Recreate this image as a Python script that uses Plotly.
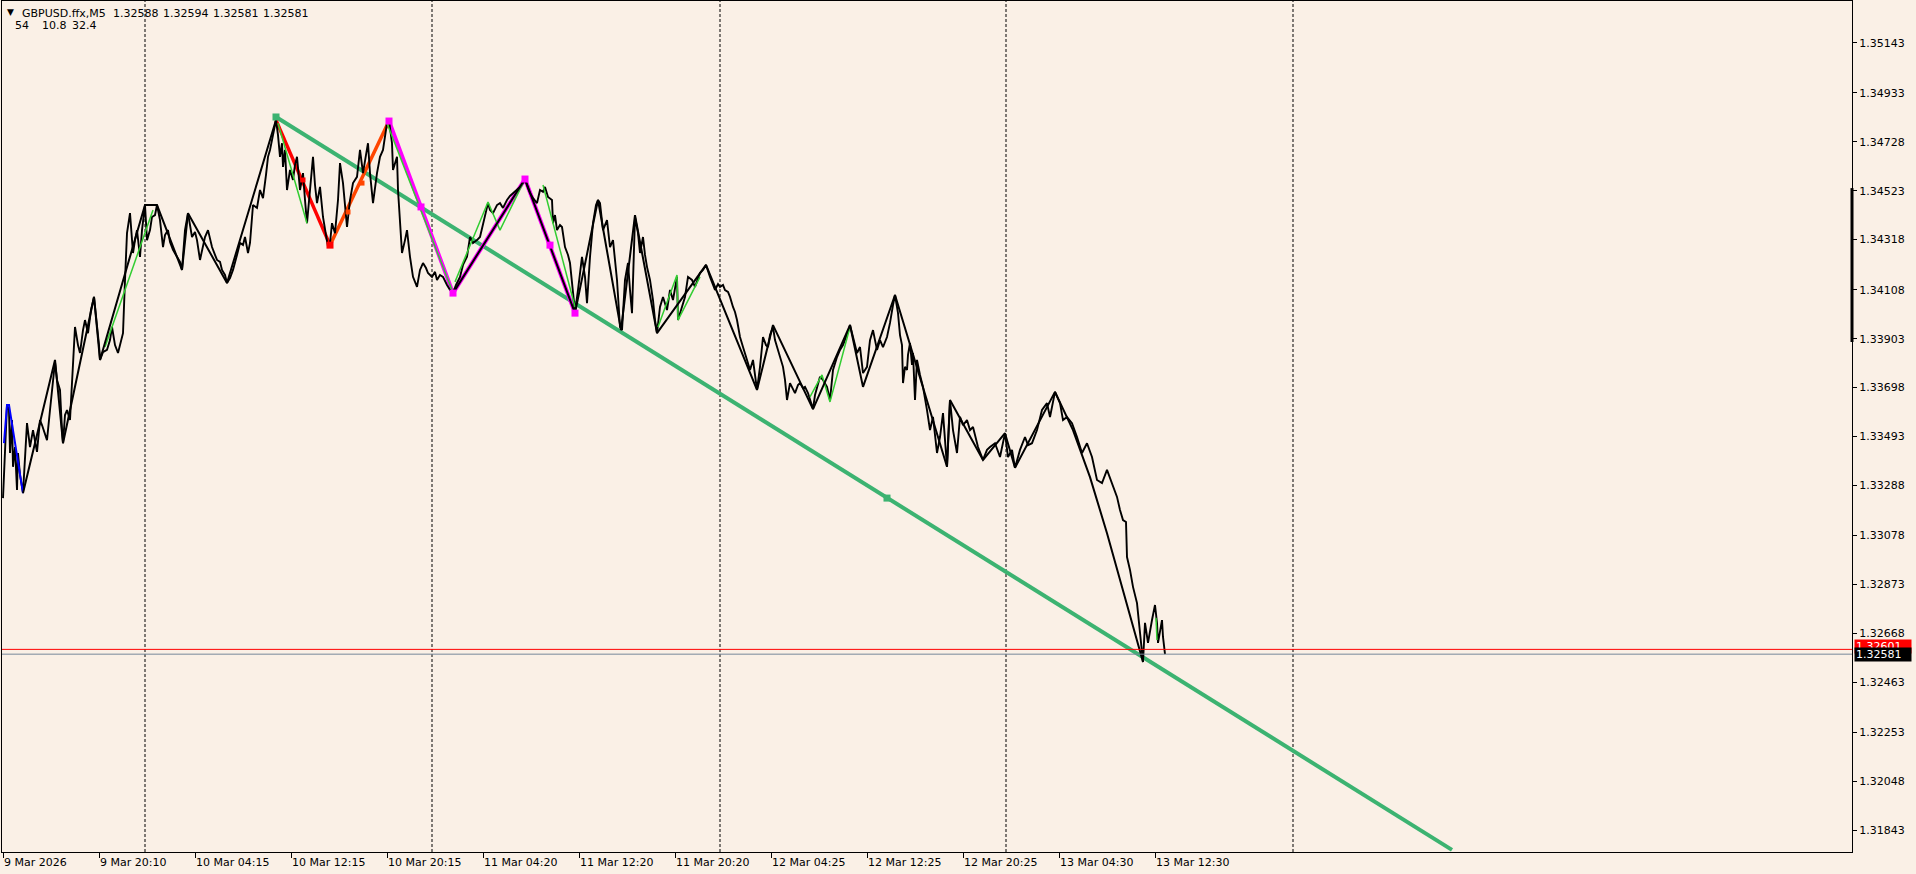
import plotly.graph_objects as go

# ---------------- header texts ----------------
symbol_text = "GBPUSD.ffx,M5"
ohlc_values = ["1.32588", "1.32594", "1.32581", "1.32581"]
indicator_values = ["54", "10.8", "32.4"]

# ---------------- price series (bar index, close) ----------------
bars = [
    0, 2, 4, 6, 7, 9, 10, 12, 14, 15, 17, 20, 24, 27, 30, 34, 37, 39, 42, 44,
    47, 50, 52, 54, 57, 59, 60, 62, 64, 67, 70, 72, 75, 77, 80, 82, 85, 88, 91, 93,
    94, 96, 97, 100, 104, 107, 109, 112, 115, 118, 120, 122, 124, 127, 130, 132, 134, 137, 139, 142,
    144, 147, 149, 152, 154, 157, 160, 162, 165, 167, 170, 174, 177, 179, 182, 185, 187, 189, 192, 194,
    197, 200, 202, 205, 207, 209, 212, 214, 217, 219, 222, 224, 227, 230, 234, 237, 240, 242, 245, 247,
    250, 254, 257, 260, 263, 265, 267, 269, 271, 273,
    275, 277, 279, 280, 282, 284, 287, 290, 292, 294, 297, 300, 302, 304, 307, 310, 312, 314, 317, 320,
    323, 325, 327, 329, 332, 335, 337, 340, 344, 347, 350, 354, 357, 360, 363, 365, 367, 370, 374, 377,
    380, 384, 386, 389, 390, 394, 395, 397, 399, 402, 404, 407, 410, 414, 417, 420, 423, 425, 429, 432,
    434, 437, 440, 444, 447, 450, 453, 457, 460, 464, 467, 470, 474, 477, 480, 483, 485, 487, 490, 494,
    497, 500, 504, 507, 510, 514, 517, 520, 522, 525, 527, 530, 534, 537, 540, 542, 545, 549, 550, 552,
    554, 557, 559, 562, 565, 567, 569, 572, 575, 577, 579, 582, 584, 587, 590, 593, 595,
    597, 600, 604, 607, 610, 612, 614, 617, 619, 622, 625, 627, 629, 632, 635, 637, 640, 642, 644, 647,
    650, 652, 654, 657, 660, 664, 667, 670, 674, 675, 679, 682, 685, 689, 692, 695, 697, 700, 703, 707,
    710, 712, 715, 717, 720, 722, 725, 727, 730, 732, 734, 737, 740, 742, 744, 747, 750, 752, 754, 757,
    760, 763, 765, 767, 770, 772, 774, 777, 780, 782, 784, 787, 790, 792, 795, 797, 800, 802, 805, 807,
    810, 812, 814, 817, 820, 822, 824, 827, 830, 834, 837, 840, 842, 845, 847, 850, 852, 854, 857, 860,
    862, 864, 867, 870, 872, 874, 877, 880, 884, 887, 890, 892, 895, 897, 899, 900, 902, 904, 905, 907,
    909, 910, 912, 914, 917,
    920, 924, 927, 930, 934, 937, 940, 944, 947, 950, 954, 957, 960, 964, 967, 970, 975, 980, 984, 987,
    992, 997, 1002, 1005, 1009, 1012, 1017, 1022, 1025, 1029, 1034, 1039, 1044, 1047, 1052, 1057, 1060, 1064, 1069, 1074,
    1079, 1084, 1089, 1094, 1099, 1104, 1109, 1114, 1117, 1120, 1123, 1124, 1127, 1130, 1134, 1137, 1140, 1142, 1145, 1149,
    1152, 1154, 1155, 1159, 1160, 1162,
]
close = [
    1.33235, 1.33465, 1.33625, 1.33604, 1.33424, 1.33562, 1.33366, 1.33449, 1.33269, 1.33424, 1.33332, 1.33256, 1.33549, 1.33449, 1.33520, 1.33429, 1.33562, 1.33541, 1.33507, 1.33478,
    1.33604, 1.33717, 1.33806, 1.33730, 1.33688, 1.33520, 1.33465, 1.33583, 1.33604, 1.33562, 1.33801, 1.33952, 1.33876, 1.33843, 1.33939, 1.33981, 1.33926, 1.34023, 1.34078, 1.34002,
    1.33952, 1.33876, 1.33814, 1.33847, 1.33856, 1.33897, 1.33952, 1.33876, 1.33843, 1.33897, 1.33926, 1.34149, 1.34345, 1.34429, 1.34262, 1.34316, 1.34358, 1.34246, 1.34358, 1.34463,
    1.34316, 1.34358, 1.34413, 1.34421, 1.34463, 1.34400, 1.34287, 1.34337, 1.34358, 1.34308, 1.34275, 1.34246, 1.34225, 1.34191, 1.34358, 1.34429, 1.34379, 1.34329, 1.34350, 1.34316,
    1.34233, 1.34296, 1.34329, 1.34358, 1.34325, 1.34287, 1.34254, 1.34233, 1.34225, 1.34191, 1.34170, 1.34136, 1.34157, 1.34191, 1.34254, 1.34304, 1.34296, 1.34329, 1.34262, 1.34304,
    1.34463, 1.34451, 1.34526, 1.34492, 1.34589, 1.34665, 1.34694, 1.34735, 1.34785, 1.34819,
    1.34756, 1.34665, 1.34722, 1.34623, 1.34694, 1.34526, 1.34610, 1.34568, 1.34631, 1.34665, 1.34526, 1.34597, 1.34484, 1.34387, 1.34526, 1.34665, 1.34547, 1.34471, 1.34539, 1.34413,
    1.34337, 1.34287, 1.34304, 1.34387, 1.34345, 1.34484, 1.34639, 1.34555, 1.34371, 1.34484, 1.34555, 1.34581, 1.34694, 1.34597, 1.34673, 1.34722, 1.34597, 1.34471, 1.34597, 1.34665,
    1.34694, 1.34806, 1.34819, 1.34722, 1.34610, 1.34665, 1.34526, 1.34400, 1.34262, 1.34316, 1.34358, 1.34246, 1.34162, 1.34120, 1.34191, 1.34220, 1.34199, 1.34178, 1.34162, 1.34183,
    1.34149, 1.34170, 1.34162, 1.34128, 1.34107, 1.34094, 1.34128, 1.34162, 1.34212, 1.34246, 1.34329, 1.34304, 1.34316, 1.34329, 1.34387, 1.34442, 1.34471, 1.34442, 1.34429, 1.34463,
    1.34471, 1.34451, 1.34484, 1.34501, 1.34513, 1.34526, 1.34539, 1.34555, 1.34572, 1.34534, 1.34513, 1.34492, 1.34471, 1.34526, 1.34518, 1.34539, 1.34497, 1.34484, 1.34387, 1.34421,
    1.34358, 1.34379, 1.34371, 1.34287, 1.34254, 1.34220, 1.34128, 1.34015, 1.34107, 1.34191, 1.34246, 1.34162, 1.34052, 1.34246, 1.34387, 1.34463, 1.34484,
    1.34471, 1.34358, 1.34400, 1.34287, 1.34316, 1.34233, 1.34149, 1.33952, 1.33939, 1.34149, 1.34220, 1.34107, 1.34010, 1.34413, 1.34345, 1.34262, 1.34329, 1.34254, 1.34204, 1.34149,
    1.34065, 1.33981, 1.33926, 1.34036, 1.34078, 1.34023, 1.34107, 1.34065, 1.34162, 1.33981, 1.34036, 1.34078, 1.34162, 1.34149, 1.34120, 1.34157, 1.34178, 1.34191, 1.34212, 1.34162,
    1.34128, 1.34107, 1.34132, 1.34120, 1.34128, 1.34107, 1.34099, 1.34078, 1.34036, 1.34015, 1.33981, 1.33910, 1.33868, 1.33835, 1.33814, 1.33772, 1.33814, 1.33751, 1.33688, 1.33785,
    1.33910, 1.33876, 1.33868, 1.33918, 1.33952, 1.33897, 1.33868, 1.33826, 1.33785, 1.33730, 1.33646, 1.33717, 1.33688, 1.33675, 1.33709, 1.33717, 1.33696, 1.33701, 1.33675, 1.33646,
    1.33608, 1.33667, 1.33701, 1.33743, 1.33730, 1.33717, 1.33701, 1.33646, 1.33772, 1.33826, 1.33856, 1.33876, 1.33897, 1.33931, 1.33960, 1.33910, 1.33876, 1.33843, 1.33868, 1.33759,
    1.33772, 1.33785, 1.33897, 1.33939, 1.33897, 1.33856, 1.33897, 1.33868, 1.33910, 1.33969, 1.34044, 1.34086, 1.34010, 1.33918, 1.33876, 1.33717, 1.33785, 1.33772, 1.33835, 1.33885,
    1.33793, 1.33843, 1.33646, 1.33814, 1.33751,
    1.33701, 1.33604, 1.33520, 1.33575, 1.33424, 1.33491, 1.33591, 1.33366, 1.33646, 1.33520, 1.33424, 1.33575, 1.33541, 1.33562, 1.33520, 1.33533, 1.33449, 1.33395, 1.33437, 1.33449,
    1.33465, 1.33407, 1.33507, 1.33407, 1.33437, 1.33362, 1.33437, 1.33491, 1.33457, 1.33465, 1.33520, 1.33604, 1.33633, 1.33575, 1.33680, 1.33633, 1.33562, 1.33575, 1.33549, 1.33491,
    1.33424, 1.33465, 1.33407, 1.33311, 1.33298, 1.33353, 1.33298, 1.33240, 1.33185, 1.33143, 1.33135, 1.32988, 1.32934, 1.32863, 1.32795, 1.32682, 1.32548, 1.32712, 1.32628, 1.32724,
    1.32787, 1.32712, 1.32628, 1.32724, 1.32653, 1.32581,
]

# ---------------- zigzag overlays ----------------
zz_a_bar = [20, 52, 60, 91, 97, 142, 154, 179, 185, 224, 273]
zz_a_price = [1.33256, 1.33814, 1.33465, 1.34078, 1.33814, 1.34463, 1.34463, 1.34191, 1.34429, 1.34136, 1.34819]
zz_b_bar = [450, 522, 572, 595, 618, 632, 654, 703, 754, 770, 810, 847, 860, 892, 944, 947, 980, 1002, 1012, 1052, 1070, 1087, 1104, 1120, 1140]
zz_b_price = [1.34094, 1.34572, 1.34010, 1.34484, 1.33939, 1.34421, 1.33926, 1.34212, 1.33688, 1.33960, 1.33608, 1.33960, 1.33701,
              1.34086, 1.33366, 1.33646, 1.33395, 1.33507, 1.33362, 1.33680, 1.33520, 1.33323, 1.33088, 1.32850, 1.32548]

blue_bar = [1, 4, 6, 20]
blue_price = [1.33465, 1.33625, 1.33625, 1.33256]

red_bar = [273, 327]
red_price = [1.34819, 1.34295]
orange_bar = [327, 386]
orange_price = [1.34295, 1.34815]
red_dot_bar = [300]
red_dot_price = [1.34568]
orange_dot_bar = [345, 359]
orange_dot_price = [1.34434, 1.34555]

magenta_bar = [386, 450, 522, 572]
magenta_price = [1.34815, 1.34094, 1.34572, 1.34010]
magenta_mark_bar = [386, 418, 450, 522, 547, 572]
magenta_mark_price = [1.34815, 1.34455, 1.34094, 1.34572, 1.34295, 1.34010]

lime_bar = [102, 150, None, 275, 304, None, 384, 449, None, 452, 485, 497, 520, None, 540, 572, None,
            655, 674, 675, 697, None, 807, 819, 827, 847, None, 1153, 1154]
lime_price = [1.33868, 1.34442, None, 1.34806, 1.34387, None, 1.34806, 1.34107, None, 1.34141, 1.34476, 1.34358, 1.34555, None,
              1.34547, 1.34036, None, 1.33952, 1.34170, 1.33981, 1.34162, None, 1.33659, 1.33751, 1.33638, 1.33952, None, 1.32733, 1.32640]

trend_bar = [273, 884, 1449]
trend_price = [1.34832, 1.33235, 1.31761]
trend_mark_bar = [273, 884]
trend_mark_price = [1.34832, 1.33235]

bid = 1.32581
ask = 1.32601

# ---------------- axes ----------------
price_ticks = [1.35143, 1.34933, 1.34728, 1.34523, 1.34318, 1.34108, 1.33903, 1.33698, 1.33493,
               1.33288, 1.33078, 1.32873, 1.32668, 1.32463, 1.32253, 1.32048, 1.31843]
time_tick_bars = [0, 96, 192, 288, 384, 480, 576, 672, 768, 864, 960, 1056, 1152]
time_tick_labels = ["9 Mar 2026", "9 Mar 20:10", "10 Mar 04:15", "10 Mar 12:15", "10 Mar 20:15",
                    "11 Mar 04:20", "11 Mar 12:20", "11 Mar 20:20", "12 Mar 04:25", "12 Mar 12:25",
                    "12 Mar 20:25", "13 Mar 04:30", "13 Mar 12:30"]
day_separator_bars = [142, 429, 717, 1003, 1290]
scroll_range = [1.34534, 1.33889]

Y0, Y1 = 1.31752, 1.35318
X0, X1 = -1, 1849
BG = "#FAF0E6"
FONT = "DejaVu Sans"

fig = go.Figure()

fig.add_trace(go.Scatter(x=trend_bar, y=trend_price, mode="lines",
                         line=dict(color="#3CB371", width=4), hoverinfo="skip"))
fig.add_trace(go.Scatter(x=magenta_bar, y=magenta_price, mode="lines",
                         line=dict(color="#FF00FF", width=4), hoverinfo="skip"))
fig.add_trace(go.Scatter(x=red_bar, y=red_price, mode="lines",
                         line=dict(color="#FF0000", width=3.5), hoverinfo="skip"))
fig.add_trace(go.Scatter(x=orange_bar, y=orange_price, mode="lines",
                         line=dict(color="#FF4500", width=3.5), hoverinfo="skip"))
fig.add_trace(go.Scatter(x=bars, y=close, mode="lines",
                         line=dict(color="black", width=1.9), hoverinfo="skip"))
fig.add_trace(go.Scatter(x=blue_bar, y=blue_price, mode="lines",
                         line=dict(color="#0000FF", width=2), hoverinfo="skip"))
fig.add_trace(go.Scatter(x=lime_bar, y=lime_price, mode="lines", connectgaps=False,
                         line=dict(color="#32CD32", width=1.5), hoverinfo="skip"))
fig.add_trace(go.Scatter(x=zz_a_bar, y=zz_a_price, mode="lines",
                         line=dict(color="black", width=2), hoverinfo="skip"))
fig.add_trace(go.Scatter(x=zz_b_bar, y=zz_b_price, mode="lines",
                         line=dict(color="black", width=2), hoverinfo="skip"))
fig.add_trace(go.Scatter(x=red_dot_bar, y=red_dot_price, mode="markers",
                         marker=dict(symbol="square", size=5, color="#FF0000"), hoverinfo="skip"))
fig.add_trace(go.Scatter(x=orange_dot_bar, y=orange_dot_price, mode="markers",
                         marker=dict(symbol="square", size=5, color="#FF4500"), hoverinfo="skip"))
fig.add_trace(go.Scatter(x=[red_bar[1]], y=[red_price[1]], mode="markers",
                         marker=dict(symbol="square", size=7, color="#FF0000"), hoverinfo="skip"))
fig.add_trace(go.Scatter(x=magenta_mark_bar, y=magenta_mark_price, mode="markers",
                         marker=dict(symbol="square", size=7, color="#FF00FF"), hoverinfo="skip"))
fig.add_trace(go.Scatter(x=trend_mark_bar, y=trend_mark_price, mode="markers",
                         marker=dict(symbol="square", size=7, color="#3CB371"), hoverinfo="skip"))

shapes = []
for b in day_separator_bars:
    shapes.append(dict(type="line", xref="x", yref="paper", x0=b, x1=b, y0=0, y1=1,
                       line=dict(color="black", width=1, dash="3px,2px"), layer="below"))
shapes.append(dict(type="line", xref="paper", yref="y", x0=0, x1=1, y0=ask, y1=ask,
                   line=dict(color="#FF0000", width=1)))
shapes.append(dict(type="line", xref="paper", yref="y", x0=0, x1=1, y0=bid, y1=bid,
                   line=dict(color="#778899", width=1)))


def ypaper(p):
    return (p - Y0) / (Y1 - Y0)


shapes.append(dict(type="line", xref="paper", yref="paper", x0=1.0, x1=1.0,
                   y0=ypaper(scroll_range[0]), y1=ypaper(scroll_range[1]),
                   line=dict(color="black", width=3)))

PW, PH, ML, MT = 1850, 851, 2, 1


def pxp(xp):
    return (xp - ML) / PW


def pyp(yp):
    return (MT + PH - yp) / PH


annotations = []
hdr = dict(xref="paper", yref="paper", xanchor="left", yanchor="middle", showarrow=False,
           borderpad=0, font=dict(family=FONT, size=11, color="black"))
annotations.append(dict(hdr, x=pxp(6), y=pyp(12.5), text="▼", font=dict(family=FONT, size=9, color="black")))
annotations.append(dict(hdr, x=pxp(21), y=pyp(13), text=symbol_text))
for xpos, t in zip([112, 162, 212, 262], ohlc_values):
    annotations.append(dict(hdr, x=pxp(xpos), y=pyp(13), text=t))
for xpos, t in zip([14, 41, 71], indicator_values):
    annotations.append(dict(hdr, x=pxp(xpos), y=pyp(25.5), text=t))

annotations.append(dict(xref="paper", yref="paper", x=pxp(1854), y=ypaper(ask) + 2.5 / PH,
                        xanchor="left", yanchor="middle", showarrow=False, text=f"{ask:.5f}",
                        bgcolor="#FF0000", width=54, height=11, borderpad=1, align="left",
                        font=dict(family=FONT, size=11, color="white")))
annotations.append(dict(xref="paper", yref="paper", x=pxp(1854), y=ypaper(bid),
                        xanchor="left", yanchor="middle", showarrow=False, text=f"{bid:.5f}",
                        bgcolor="black", width=54, height=11, borderpad=1, align="left",
                        font=dict(family=FONT, size=11, color="white")))

fig.update_layout(
    width=1916, height=874,
    margin=dict(l=2, r=64, t=1, b=22, autoexpand=False),
    paper_bgcolor=BG, plot_bgcolor=BG,
    showlegend=False,
    font=dict(family=FONT, size=11, color="black"),
    shapes=shapes, annotations=annotations,
    hovermode=False,
)
fig.update_xaxes(range=[X0, X1], tickvals=time_tick_bars, ticktext=time_tick_labels,
                 ticks="outside", ticklen=5, tickcolor="black", tickwidth=1,
                 showline=True, linecolor="black", linewidth=1, mirror=True,
                 showgrid=False, zeroline=False, ticklabelposition="outside right",
                 tickfont=dict(family=FONT, size=11, color="black"))
fig.update_yaxes(range=[Y0, Y1], side="right", tickvals=price_ticks,
                 ticktext=[f"{v:.5f}" for v in price_ticks],
                 ticks="outside", ticklen=4, tickcolor="black", tickwidth=1,
                 showline=True, linecolor="black", linewidth=1, mirror=True,
                 showgrid=False, zeroline=False,
                 tickfont=dict(family=FONT, size=11, color="black"))

fig.write_html("out.html", config={"displayModeBar": False},
               post_script="document.body.style.margin='0';document.body.style.overflow='hidden';")
